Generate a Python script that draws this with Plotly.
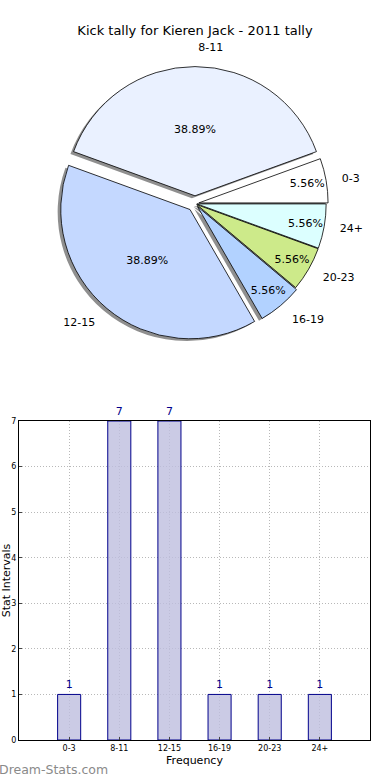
import plotly.graph_objects as go

categories = ["0-3", "8-11", "12-15", "16-19", "20-23", "24+"]
counts = [1, 7, 7, 1, 1, 1]
pie_colors = ["#FFFFFF", "#EAF1FF", "#C4D8FF", "#B2D2FF", "#CDEA8A", "#DCFFFF"]
pulls = [0.03, 0.06, 0.06, 0.03, 0.015, 0.015]
y_ticks = [0, 1, 2, 3, 4, 5, 6, 7]

FONT = "DejaVu Sans"
W, H = 390, 780
cx, cy = 0.5, 0.739
size = 274  # pie domain size in px
lab_size = 300
pie_dom_x = [cx - size / 2 / W, cx + size / 2 / W]
pie_dom_y = [cy - size / 2 / H, cy + size / 2 / H]
lab_dom_x = [cx - lab_size / 2 / W, cx + lab_size / 2 / W]
lab_dom_y = [cy - lab_size / 2 / H, cy + lab_size / 2 / H]
ROT = 70

fig = go.Figure()

# shadow
fig.add_trace(go.Pie(
    labels=categories, values=counts, sort=False, direction="counterclockwise",
    rotation=ROT, pull=pulls, textinfo="none", hoverinfo="skip",
    marker=dict(colors=["#8f8f8f"] * 6, line=dict(width=0)),
    domain=dict(x=[pie_dom_x[0] - 0.008, pie_dom_x[1] - 0.008],
                y=[pie_dom_y[0] - 0.003, pie_dom_y[1] - 0.003]),
    showlegend=False,
))
# main pie with percents
fig.add_trace(go.Pie(
    labels=categories, values=counts, sort=False, direction="counterclockwise",
    rotation=ROT, pull=pulls, texttemplate="%{percent:.2%}", textposition="inside",
    insidetextorientation="horizontal",
    textfont=dict(family=FONT, size=11, color="black"),
    marker=dict(colors=pie_colors, line=dict(color="black", width=0.8)),
    domain=dict(x=pie_dom_x, y=pie_dom_y),
    showlegend=False,
))
# outside labels
fig.add_trace(go.Pie(
    labels=categories, values=counts, sort=False, direction="counterclockwise",
    rotation=ROT, pull=pulls, textinfo="label", textposition="outside",
    textfont=dict(family=FONT, size=11, color="black"),
    marker=dict(colors=["rgba(0,0,0,0)"] * 6, line=dict(width=0)),
    hoverinfo="skip", domain=dict(x=lab_dom_x, y=lab_dom_y),
    showlegend=False,
))

fig.add_trace(go.Bar(
    x=categories, y=counts, width=0.46,
    marker=dict(color="rgba(190,190,222,0.8)", line=dict(color="#00008B", width=1)),
    text=[str(c) for c in counts], textposition="outside", cliponaxis=False,
    textfont=dict(family=FONT, size=11, color="#00008B"),
    xaxis="x", yaxis="y", showlegend=False,
))

fig.update_layout(
    width=W, height=H, margin=dict(l=0, r=0, t=0, b=0, autoexpand=False),
    paper_bgcolor="white", plot_bgcolor="white",
    font=dict(family=FONT, color="black"),
    title=dict(text="Kick tally for Kieren Jack - 2011 tally", x=0.5, xanchor="center",
               xref="container", yref="container",
               y=1 - 30 / H, yanchor="middle", font=dict(size=13, family=FONT),
               automargin=False),
    xaxis=dict(domain=[19 / W, 370 / W], range=[-1, 6], showline=True, mirror=True,
               linecolor="black", linewidth=1, showgrid=True, gridcolor="#b8b8b8",
               griddash="1px,2px", ticks="inside", ticklen=3, tickfont=dict(size=8),
               layer="above traces", automargin=False,
               title=dict(text="Frequency", font=dict(size=11), standoff=4),
               zeroline=False),
    yaxis=dict(domain=[1 - 740 / H, 1 - 421 / H], range=[0, 7], tickvals=y_ticks,
               showline=True, mirror=True, linecolor="black", linewidth=1, showgrid=True,
               gridcolor="#b8b8b8", griddash="1px,2px", ticks="inside", ticklen=3,
               tickfont=dict(size=8), layer="above traces", zeroline=False, automargin=False,
               title=dict(text="Stat Intervals", font=dict(size=11), standoff=0)),
    annotations=[dict(text="Dream-Stats.com", x=0, y=0, xref="paper", yref="paper",
                      xanchor="left", yanchor="bottom", yshift=1, xshift=-3, showarrow=False,
                      font=dict(family=FONT, size=12.5, color="#8a8a8a"))],
)

fig.write_html("out.html", config={"displayModeBar": False},
               post_script="document.body.style.margin='0';document.body.style.overflow='hidden';")
